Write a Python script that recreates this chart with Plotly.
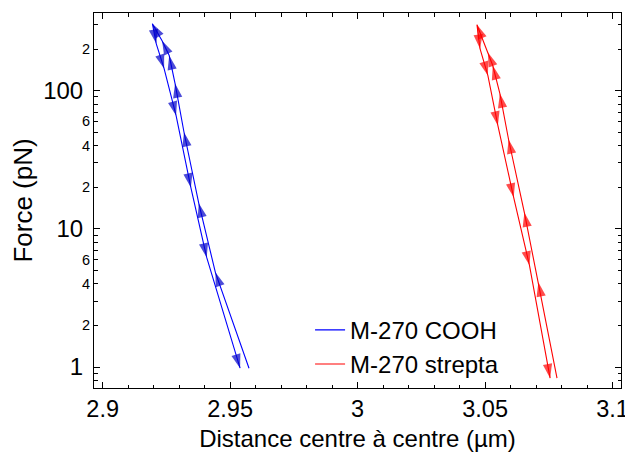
import plotly.graph_objects as go

# ---- data ----
# Blue loop: M-270 COOH (path goes up the right branch, back down the left branch)
blue_x = [2.9574, 2.9442, 2.9377, 2.9319, 2.9284, 2.9261, 2.9233, 2.9195,
          2.9210, 2.9241, 2.9288, 2.9346, 2.9408, 2.9539]
blue_f = [0.98, 4.84, 15.3, 50.0, 112.6, 179.5, 230, 305,
          219, 144.5, 66, 19.9, 6.21, 0.98]

# Red loop: M-270 strepta
red_x = [3.0782, 3.0709, 3.0654, 3.0592, 3.0558, 3.0530, 3.0511, 3.0468,
         3.0480, 3.0511, 3.0550, 3.0612, 3.0674, 3.0755]
red_f = [0.83, 4.10, 13.1, 44.3, 95.3, 152, 189, 300,
         201, 128.6, 56, 16.9, 5.44, 0.83]

series_names = ["M-270 COOH", "M-270 strepta"]

y_major_vals = [1, 10, 100]
y_major_text = ["1", "10", "100"]
y_small_vals = [2, 4, 6, 20, 40, 60, 200]
y_small_text = ["2", "4", "6", "2", "4", "6", "2"]

# ---- figure ----
FONT = "Arial, Liberation Sans, sans-serif"
fig = go.Figure()


def add_loop(x, f, name, line_color, head_color, yaxis):
    fig.add_trace(go.Scatter(x=x, y=f, mode="lines", name=name, yaxis=yaxis,
                             line=dict(color=line_color, width=1.1)))
    sizes = [0] + [15] * (len(x) - 1)
    fig.add_trace(go.Scatter(x=x, y=f, mode="markers", showlegend=False, yaxis=yaxis,
                             hoverinfo="skip",
                             marker=dict(symbol="arrow", angleref="previous", size=sizes,
                                         color=head_color, line=dict(width=0))))


add_loop(blue_x, blue_f, series_names[0], "#0000ff", "#0000c8", "y")
add_loop(red_x, red_f, series_names[1], "#ff0000", "#ff0000", "y2")

minor_y = [0.8, 0.9] + [d * m for d in (1, 10, 100) for m in range(2, 10)]
minor_y = [v for v in minor_y if v < 380]

yrange = [-0.152, 2.562]

# page body has an 8px margin: the figure sits at (8, 8) in the window
fig.update_layout(
    width=625, height=444,
    margin=dict(l=86, r=5, t=4, b=64),
    paper_bgcolor="white", plot_bgcolor="white",
    font=dict(family=FONT, color="black"),
    showlegend=True,
    legend=dict(x=0.41, y=0.214, xanchor="left", yanchor="top",
                font=dict(size=24, family=FONT), bgcolor="rgba(0,0,0,0)",
                tracegroupgap=0),
    xaxis=dict(range=[2.8966, 3.1033], tick0=2.9, dtick=0.05,
               ticks="inside", ticklen=6, tickwidth=1, tickcolor="black",
               minor=dict(dtick=0.01, tick0=2.9, ticks="inside", ticklen=3.5,
                          tickcolor="black", tickwidth=1),
               showline=True, linecolor="black", linewidth=1, mirror="ticks",
               showgrid=False, zeroline=False, ticklabeloverflow="allow",
               tickfont=dict(size=23.5, family=FONT),
               title=dict(text="Distance centre à centre (µm)",
                          font=dict(size=24, family=FONT), standoff=8)),
    yaxis=dict(type="log", range=yrange, tickmode="array",
               tickvals=y_major_vals, ticktext=y_major_text,
               ticks="inside", ticklen=6, tickwidth=1, tickcolor="black",
               minor=dict(tickmode="array", tickvals=minor_y, ticks="inside",
                          ticklen=3.5, tickcolor="black", tickwidth=1),
               showline=True, linecolor="black", linewidth=1, mirror="ticks",
               showgrid=False, zeroline=False,
               ticklabelstandoff=5,
               tickfont=dict(size=24, family=FONT),
               title=dict(text="Force (pN)", font=dict(size=26, family=FONT),
                          standoff=6)),
    yaxis2=dict(type="log", range=yrange, overlaying="y", anchor="x", side="left",
                tickmode="array", tickvals=y_small_vals, ticktext=y_small_text,
                ticks="", showline=False, showgrid=False, zeroline=False,
                ticklabelstandoff=3,
                tickfont=dict(size=14.5, family=FONT)),
)

fig.write_html("out.html")
